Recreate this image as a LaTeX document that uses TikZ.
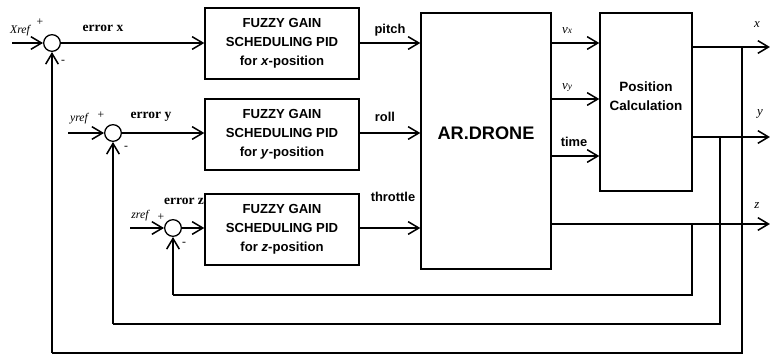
\documentclass[tikz,border=0pt]{standalone}
\usepackage{fontspec}
\setmainfont{Liberation Serif}
\setsansfont{Liberation Sans}
\usetikzlibrary{arrows.meta, positioning, calc}

\tikzset{
    pidbox/.style={rectangle, draw, line width=1.2pt, align=center, minimum width=4.62cm, minimum height=2.13cm, font=\fontsize{11.2}{16}\selectfont\sffamily\bfseries},
    dronebox/.style={rectangle, draw, line width=1.2pt, align=center, minimum width=3.9cm, minimum height=7.68cm, font=\fontsize{15.5}{18}\selectfont\sffamily\bfseries},
    calcbox/.style={rectangle, draw, line width=1.2pt, align=center, minimum width=2.76cm, minimum height=5.34cm, font=\fontsize{11.5}{16}\selectfont\sffamily\bfseries},
    sumjunc/.style={circle, draw, line width=1.1pt, inner sep=0pt, minimum size=0.5cm},
    sig/.style={-{Straight Barb[length=3.2mm, width=3.8mm]}, line width=1.3pt},
    fb/.style={line width=1.3pt},
    errlabel/.style={font=\fontsize{11.5}{13}\selectfont\bfseries, inner sep=1pt},
    reflabel/.style={font=\fontsize{10}{11}\selectfont\itshape, inner sep=1pt},
    signlabel/.style={font=\fontsize{10}{11}\selectfont, inner sep=0.5pt},
    ctrllabel/.style={font=\fontsize{11}{13}\selectfont\sffamily\bfseries},
    outlabel/.style={font=\fontsize{11}{13}\selectfont\itshape}
}

\begin{document}
\begin{tikzpicture}[x=0.03cm, y=-0.03cm]

    \useasboundingbox (0,0) rectangle (770,360);

    % blocks
    \node (pidx) [pidbox] at (282,43.5) {FUZZY GAIN\\SCHEDULING PID\\for \textit{x}-position};
    \node (pidy) [pidbox] at (282,134.5) {FUZZY GAIN\\SCHEDULING PID\\for \textit{y}-position};
    \node (pidz) [pidbox] at (282,229.5) {FUZZY GAIN\\SCHEDULING PID\\for \textit{z}-position};
    \node (drone) [dronebox] at (486,141) {AR.DRONE\\[-0.15cm]};
    \node (poscalc) [calcbox] at (646,102) {Position\\Calculation\\[-0.2cm]};

    % summing junctions
    \node (sx) [sumjunc] at (52,43) {};
    \node (sy) [sumjunc] at (113,133) {};
    \node (sz) [sumjunc] at (173,228) {};

    % references
    \coordinate (xin) at (12,43);
    \coordinate (yin) at (68,133);
    \coordinate (zin) at (130,228);
    \node [reflabel] at (20,31) {Xref};
    \node [reflabel] at (79,119) {yref};
    \node [reflabel] at (140,216) {zref};
    \node [signlabel] at (40,22) {+};
    \node [signlabel] at (101,115) {+};
    \node [signlabel] at (161,217) {+};
    \node [signlabel] at (63,62) {-};
    \node [signlabel] at (126,148) {-};
    \node [signlabel] at (184,244) {-};

    \draw [sig] (xin) -- (sx);
    \draw [sig] (yin) -- (sy);
    \draw [sig] (zin) -- (sz);

    % errors
    \draw [sig] (sx) -- (pidx.west |- sx);
    \draw [sig] (sy) -- (pidy.west |- sy);
    \draw [sig] (sz) -- (pidz.west |- sz);
    \node [errlabel] at (103,28) {error x};
    \node [errlabel] at (151,117) {error y};
    \node [errlabel] at (184,201) {error z};

    % control signals
    \draw [sig] (pidx.east |- sx) -- (drone.west |- sx);
    \draw [sig] (pidy.east |- sy) -- (drone.west |- sy);
    \draw [sig] (pidz.east |- sz) -- (drone.west |- sz);
    \node [ctrllabel] at (390,30) {pitch};
    \node [ctrllabel] at (385,117) {roll};
    \node [ctrllabel] at (393,197) {throttle};

    % drone outputs
    \coordinate (vxc) at (575,43);
    \coordinate (vyc) at (575,99);
    \coordinate (tc) at (575,156);
    \draw [sig] (drone.east |- vxc) -- (poscalc.west |- vxc);
    \draw [sig] (drone.east |- vyc) -- (poscalc.west |- vyc);
    \draw [sig] (drone.east |- tc) -- (poscalc.west |- tc);
    \node [outlabel] at (567,31) {v{\fontsize{8}{9}\selectfont x}};
    \node [outlabel] at (567,88) {v{\fontsize{8}{9}\selectfont y}};
    \node [ctrllabel] at (574,142) {time};

    % outputs
    \coordinate (xout) at (770,47);
    \coordinate (yout) at (770,137);
    \coordinate (zout) at (770,224);
    \draw [sig] (poscalc.east |- xout) -- (xout);
    \draw [sig] (poscalc.east |- yout) -- (yout);
    \draw [sig] (drone.east |- zout) -- (zout);
    \node [outlabel] at (757,25) {x};
    \node [outlabel] at (760,114) {y};
    \node [outlabel] at (757,206) {z};

    % feedback
    \coordinate (xtap) at (742,47);
    \coordinate (ytap) at (720,137);
    \coordinate (ztap) at (692,224);
    \coordinate (xbot) at (52,353);
    \coordinate (ybot) at (113,324);
    \coordinate (zbot) at (173,295);
    \draw [fb] (xtap) |- (xbot);
    \draw [fb] (ytap) |- (ybot);
    \draw [fb] (ztap) |- (zbot);
    \draw [sig] (xbot) -- (sx.south);
    \draw [sig] (ybot) -- (sy.south);
    \draw [sig] (zbot) -- (sz.south);

\end{tikzpicture}
\end{document}
